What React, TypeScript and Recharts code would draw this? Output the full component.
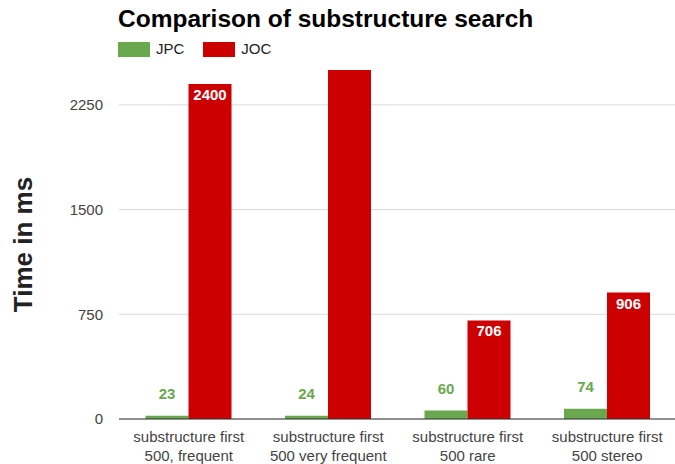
import React from 'react';
import { BarChart, Bar, XAxis, YAxis, CartesianGrid, LabelList } from 'recharts';

const categories = [
  'substructure first\n500, frequent',
  'substructure first\n500 very frequent',
  'substructure first\n500 rare',
  'substructure first\n500 stereo',
];
const jpcValues = [23, 24, 60, 74];
const jocValues = [2400, 2520, 706, 906];
const yTicks = [0, 750, 1500, 2250];
const Y_MAX = 2500;
const seriesNames = ['JPC', 'JOC'];
const seriesColors = ['#6aa84f', '#cc0000'];

const data = categories.map((c, i) => ({ name: c, JPC: jpcValues[i], JOC: jocValues[i] }));

const FONT = '"Liberation Sans", Arial, sans-serif';

const XTick = (props: any) => {
  const { x, y, payload } = props;
  const lines = String(payload.value).split('\n');
  return (
    <g>
      {lines.map((l, i) => (
        <text key={i} x={x} y={y + 23 + i * 19} textAnchor="middle" fill="#444" fontSize={15} fontFamily={FONT}>
          {l}
        </text>
      ))}
    </g>
  );
};

const JpcLabel = (props: any) => {
  const { x, y, width, value } = props;
  if (value > Y_MAX) return null;
  return (
    <text x={x + width / 2} y={y - 22.5} textAnchor="middle" dominantBaseline="central" fill="#6aa84f" fontSize={15} fontWeight="bold" fontFamily={FONT}>
      {value}
    </text>
  );
};

const JocLabel = (props: any) => {
  const { x, y, width, value } = props;
  if (value > Y_MAX) return null;
  return (
    <text x={x + width / 2} y={y + 10.5} textAnchor="middle" dominantBaseline="central" fill="#ffffff" fontSize={15} fontWeight="bold" fontFamily={FONT}>
      {value}
    </text>
  );
};

export default function App() {
  return (
    <div style={{ position: 'absolute', left: 0, top: 0, width: 675, height: 464, overflow: 'hidden', background: '#fff' }}>
      <div style={{ position: 'absolute', left: 118, top: 4, fontFamily: FONT, fontWeight: 'bold', fontSize: 24.5, color: '#000', whiteSpace: 'nowrap', lineHeight: '30px' }}>
        Comparison of substructure search
      </div>
      <div style={{ position: 'absolute', left: 118, top: 40, display: 'flex', alignItems: 'center', fontFamily: FONT, fontSize: 15, color: '#222', lineHeight: '18px' }}>
        {seriesNames.map((n, i) => (
          <div key={n} style={{ display: 'flex', alignItems: 'center', marginRight: 19 }}>
            <div style={{ width: 32, height: 15, background: seriesColors[i], marginRight: 6 }} />
            <span>{n}</span>
          </div>
        ))}
      </div>
      <BarChart
        width={680}
        height={464}
        data={data}
        margin={{ top: 70, right: 3, bottom: 15, left: 0 }}
        barCategoryGap="19%"
        barGap={0}
      >
        <CartesianGrid vertical={false} stroke="#d9d9d9" syncWithTicks />
        <XAxis
          dataKey="name"
          height={30}
          tick={<XTick />}
          tickLine={false}
          tickSize={0}
          tickMargin={0}
          axisLine={{ stroke: '#333' }}
          interval={0}
        />
        <YAxis
          width={119}
          domain={[0, Y_MAX]}
          allowDataOverflow
          ticks={yTicks}
          tickLine={false}
          axisLine={false}
          tickSize={0}
          tickMargin={16}
          tick={{ fill: '#444', fontSize: 15, fontFamily: FONT }}
          label={{
            value: 'Time in ms',
            angle: -90,
            position: 'insideLeft',
            dx: 18,
            style: { textAnchor: 'middle', fontSize: 26, fontWeight: 'bold', fill: '#222', fontFamily: FONT },
          }}
        />
        <Bar dataKey="JPC" fill={seriesColors[0]} isAnimationActive={false}>
          <LabelList dataKey="JPC" content={<JpcLabel />} />
        </Bar>
        <Bar dataKey="JOC" fill={seriesColors[1]} isAnimationActive={false}>
          <LabelList dataKey="JOC" content={<JocLabel />} />
        </Bar>
      </BarChart>
    </div>
  );
}
